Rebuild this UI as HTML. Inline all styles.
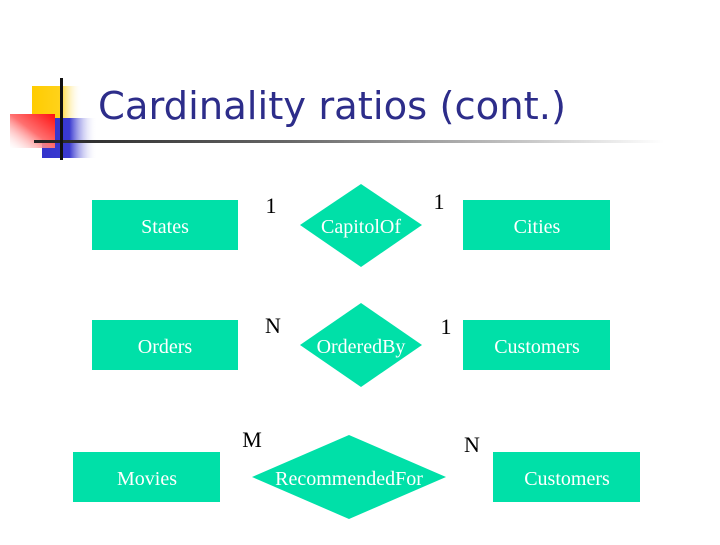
<!DOCTYPE html>
<html><head><meta charset="utf-8"><style>
html,body{margin:0;padding:0;background:#fff;}
body{width:720px;height:540px;position:relative;overflow:hidden;}
</style></head><body>
<svg width="720" height="540" viewBox="0 0 720 540" xmlns="http://www.w3.org/2000/svg">
<defs>
<linearGradient id="gy" x1="0" x2="1"><stop offset="0" stop-color="#ffcc00"/><stop offset="0.55" stop-color="#ffd21a"/><stop offset="1" stop-color="#fff" stop-opacity="0"/></linearGradient>
<linearGradient id="gb" x1="0" x2="1"><stop offset="0" stop-color="#3333cc"/><stop offset="0.5" stop-color="#3a3ad0"/><stop offset="1" stop-color="#fff" stop-opacity="0"/></linearGradient>
<linearGradient id="gr" x1="1" y1="0" x2="0" y2="1"><stop offset="0" stop-color="#ff1010"/><stop offset="0.5" stop-color="#ff7070"/><stop offset="1" stop-color="#fff" stop-opacity="0.3"/></linearGradient>
<linearGradient id="gl" x1="0" x2="1"><stop offset="0" stop-color="#222"/><stop offset="0.4" stop-color="#666"/><stop offset="1" stop-color="#fff"/></linearGradient>
</defs>
<rect x="32" y="86" width="50" height="33" fill="url(#gy)"/>
<rect x="42" y="118" width="55" height="40" fill="url(#gb)"/>
<rect x="10" y="114" width="45" height="34" fill="url(#gr)"/>
<rect x="34" y="140" width="630" height="3" fill="url(#gl)"/>
<rect x="60" y="78" width="3" height="82" fill="#111"/>
<text x="98" y="119" font-family="DejaVu Sans, sans-serif" font-size="38" fill="#2d2d8a" textLength="468" lengthAdjust="spacingAndGlyphs">Cardinality ratios (cont.)</text>

<g fill="#00e0a8">
<rect x="92" y="200" width="146" height="50"/>
<rect x="463" y="200" width="147" height="50"/>
<rect x="92" y="320" width="146" height="50"/>
<rect x="463" y="320" width="147" height="50"/>
<rect x="73" y="452" width="147" height="50"/>
<rect x="493" y="452" width="147" height="50"/>
<polygon points="361,184 422,225 361,267 300,225"/>
<polygon points="361,303 422,345 361,387 300,345"/>
<polygon points="349,435 446,477 349,519 252,477"/>
</g>
<g font-family="Liberation Serif, serif" font-size="20" fill="#fff" text-anchor="middle">
<text x="165" y="233">States</text>
<text x="537" y="233">Cities</text>
<text x="165" y="353">Orders</text>
<text x="537" y="353">Customers</text>
<text x="147" y="485">Movies</text>
<text x="567" y="485">Customers</text>
<text x="361" y="233">CapitolOf</text>
<text x="361" y="353">OrderedBy</text>
<text x="349" y="485">RecommendedFor</text>
</g>
<g font-family="Liberation Serif, serif" font-size="22" fill="#000" text-anchor="middle">
<text x="271" y="213">1</text>
<text x="439" y="209">1</text>
<text x="273" y="333">N</text>
<text x="446" y="334">1</text>
<text x="252" y="447">M</text>
<text x="472" y="452">N</text>
</g>
</svg>
</body></html>
